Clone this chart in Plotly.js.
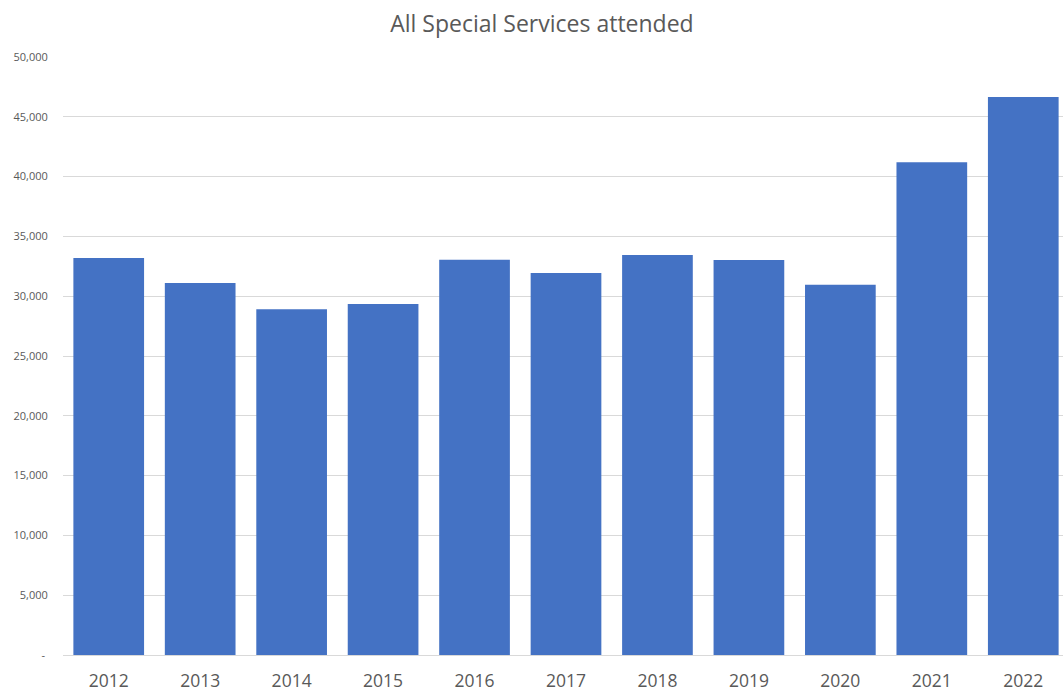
<!DOCTYPE html>
<html>
<head>
<meta charset="utf-8">
<script src="https://cdn.plot.ly/plotly-3.0.1.min.js"></script>
<style>
html,body{margin:0;padding:0;overflow:hidden;background:#fff;}
#chart{width:1070px;height:693px;}
</style>
</head>
<body>
<div id="chart"></div>
<script>
const years = ['2012','2013','2014','2015','2016','2017','2018','2019','2020','2021','2022'];
const attended = [33200, 31100, 28900, 29350, 33050, 31950, 33450, 33030, 30950, 41200, 46650];
const yTickVals = [0, 5000, 10000, 15000, 20000, 25000, 30000, 35000, 40000, 45000, 50000];
const yTickText = [' - ', '5,000', '10,000', '15,000', '20,000', '25,000', '30,000', '35,000', '40,000', '45,000', '50,000'];

const font = "'Open Sans', 'Liberation Sans', sans-serif";

Plotly.newPlot('chart', [{
  type: 'bar',
  x: years,
  y: attended,
  marker: {color: '#4472c4'},
  hoverinfo: 'none'
}], {
  width: 1070,
  height: 693,
  margin: {l: 63, r: 1, t: 57, b: 38},
  paper_bgcolor: '#ffffff',
  plot_bgcolor: '#ffffff',
  bargap: 0.227,
  showlegend: false,
  title: {
    text: 'All Special Services attended',
    font: {family: font, size: 23, color: '#595959'},
    x: 0.5065, xref: 'container', xanchor: 'center',
    y: 0.966, yref: 'container', yanchor: 'middle'
  },
  xaxis: {
    type: 'category',
    tickfont: {family: font, size: 17.5, color: '#595959'},
    ticks: 'outside', ticklen: 10, tickcolor: 'rgba(0,0,0,0)',
    showline: false, showgrid: false, zeroline: false
  },
  yaxis: {
    range: [0, 50000],
    tickvals: yTickVals,
    ticktext: yTickText,
    tickfont: {family: font, size: 11, color: '#595959'},
    ticks: 'outside', ticklen: 12, tickcolor: 'rgba(0,0,0,0)',
    showgrid: true, gridcolor: '#d9d9d9', gridwidth: 1,
    zeroline: true, zerolinecolor: '#d9d9d9', zerolinewidth: 1,
    showline: false
  }
}, {displayModeBar: false, staticPlot: true});
</script>
</body>
</html>
